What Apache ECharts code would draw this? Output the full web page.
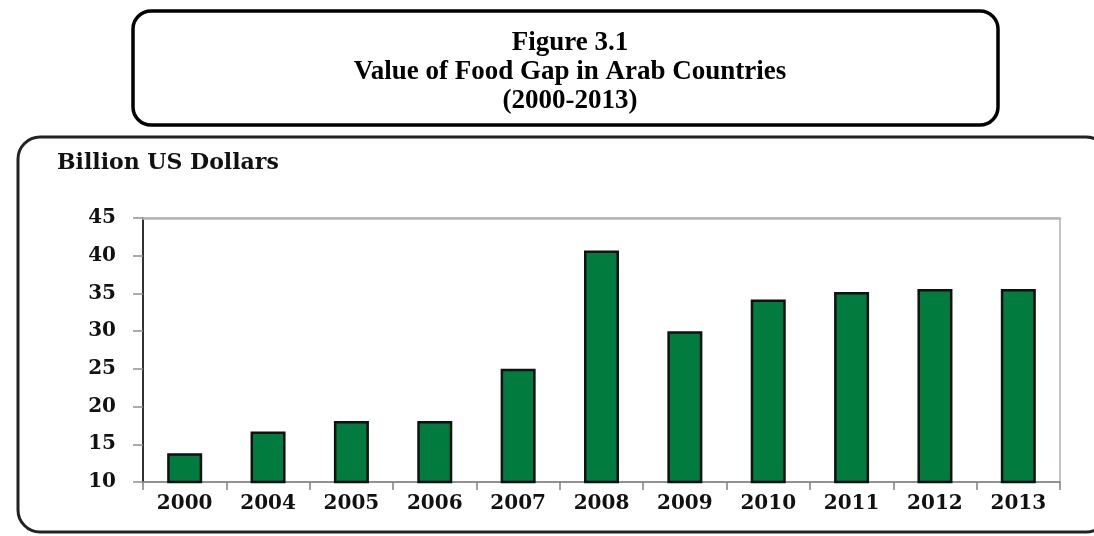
<!DOCTYPE html>
<html>
<head>
<meta charset="utf-8">
<script src="https://cdn.jsdelivr.net/npm/echarts@6/dist/echarts.min.js"></script>
<style>
html,body{margin:0;padding:0;background:#fff;}
#chart{width:1094px;height:536px;}
</style>
</head>
<body>
<div id="chart"></div>
<script>
var categories = ['2000','2004','2005','2006','2007','2008','2009','2010','2011','2012','2013'];
var foodGap = [13.8, 16.7, 18.1, 18.1, 25.0, 40.7, 30.0, 34.2, 35.2, 35.6, 35.6];
var titleLines = ['Figure 3.1', 'Value of Food Gap in Arab Countries', '(2000-2013)'];
var yUnit = 'Billion US Dollars';

var labelFont = {fontFamily: 'DejaVu Serif', fontWeight: 'bold', fontSize: 20, color: '#111'};

var chart = echarts.init(document.getElementById('chart'), null, {renderer: 'canvas'});
chart.setOption({
  animation: false,
  backgroundColor: '#fff',
  title: {
    text: titleLines.join('\n'),
    left: 565, top: 24, textAlign: 'center',
    textStyle: {fontFamily: 'Liberation Serif', fontWeight: 'bold', fontSize: 27, lineHeight: 29, color: '#000'}
  },
  graphic: [
    {type: 'rect', z: 0, shape: {x: 18, y: 137, width: 1090, height: 395, r: 22},
      style: {fill: 'none', stroke: '#222', lineWidth: 3}},
    {type: 'rect', z: 0, shape: {x: 133, y: 11, width: 865, height: 114, r: 18},
      style: {fill: '#fff', stroke: '#000', lineWidth: 3.5}},
    {type: 'text', z: 5, left: 57, top: 152,
      style: {text: yUnit, fontFamily: 'DejaVu Serif', fontWeight: 'bold', fontSize: 22, fill: '#111'}}
  ],
  grid: {left: 143, right: 34, top: 218, bottom: 54, show: true, borderColor: '#8a8a8a', borderWidth: 1, backgroundColor: 'transparent'},
  xAxis: [{
    type: 'category', data: categories, boundaryGap: true, position: 'bottom',
    axisLine: {lineStyle: {color: '#808080', width: 1.5}},
    axisTick: {show: true, inside: false, length: 8, alignWithLabel: false, lineStyle: {color: '#808080', width: 1.5}},
    axisLabel: Object.assign({margin: 12}, labelFont),
    splitLine: {show: false}
  }, {
    type: 'category', data: categories, position: 'top',
    axisLine: {show: true, lineStyle: {color: '#b5b5b5', width: 2.5}},
    axisTick: {show: false}, axisLabel: {show: false}, splitLine: {show: false}
  }],
  yAxis: {
    type: 'value', min: 10, max: 45, interval: 5,
    axisLine: {show: true, lineStyle: {color: '#000', width: 1.5}},
    axisTick: {show: true, inside: false, length: 10, lineStyle: {color: '#909090', width: 1.5}},
    axisLabel: Object.assign({margin: 27}, labelFont),
    splitLine: {show: false}
  },
  series: [{
    type: 'bar', data: foodGap, barWidth: '42%', xAxisIndex: 0,
    itemStyle: {color: '#017b3e', borderColor: '#111', borderWidth: 2.5}
  }]
});
</script>
</body>
</html>
